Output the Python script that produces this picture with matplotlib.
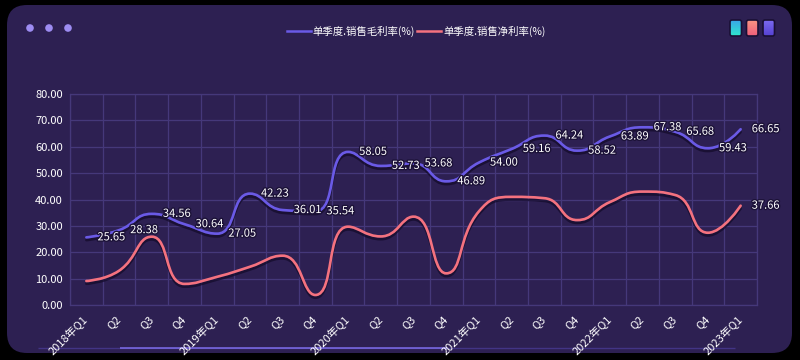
import numpy as np
import matplotlib
matplotlib.use("Agg")
import matplotlib.pyplot as plt
import matplotlib.patheffects as pe
from matplotlib.path import Path
from matplotlib.patches import PathPatch, FancyBboxPatch, Circle
from matplotlib.lines import Line2D

plt.rcParams['font.family'] = ['Noto Sans CJK SC', 'DejaVu Sans']

# 数据
quarters = ["2018年Q1", "Q2", "Q3", "Q4",
            "2019年Q1", "Q2", "Q3", "Q4",
            "2020年Q1", "Q2", "Q3", "Q4",
            "2021年Q1", "Q2", "Q3", "Q4",
            "2022年Q1", "Q2", "Q3", "Q4",
            "2023年Q1"]
gross_margin = [25.65, 28.38, 34.56, 30.64, 27.05, 42.23, 36.01, 35.54, 58.05, 52.73,
                53.68, 46.89, 54.00, 59.16, 64.24, 58.52, 63.89, 67.38, 65.68, 59.43, 66.65]
net_margin = [9.1, 13.0, 25.9, 8.0, 10.7, 14.5, 18.7, 3.8, 29.7, 26.0,
              33.5, 12.0, 35.5, 41.0, 40.5, 32.2, 39.0, 43.0, 41.7, 27.4, 37.66]
series_names = ["单季度.销售毛利率(%)", "单季度.销售净利率(%)"]

BG = "#2d2052"
GRID = "#45387a"
BLUE = "#6a5ae6"
RED = "#f4727f"


# 平滑曲线 (类似 echarts smooth)
def smooth_path(ax, xs, ys, smooth=0.5):
    pts = ax.transData.transform(np.column_stack([xs, ys]))
    verts = [pts[0]]
    codes = [Path.MOVETO]
    cp0 = pts[0]
    n = len(pts)
    for i in range(1, n):
        prev, p = pts[i - 1], pts[i]
        if i + 1 >= n:
            cp1 = p
            next_cp0 = p
        else:
            nxt = pts[i + 1]
            v = nxt - prev
            l0 = np.hypot(*(p - prev))
            l1 = np.hypot(*(nxt - p))
            r = l1 / (l0 + l1)
            next_cp0 = p + v * smooth * r
            next_cp0 = np.minimum(next_cp0, np.maximum(nxt, p))
            next_cp0 = np.maximum(next_cp0, np.minimum(nxt, p))
            v = next_cp0 - p
            cp1 = p - v * l0 / l1
            cp1 = np.minimum(cp1, np.maximum(prev, p))
            cp1 = np.maximum(cp1, np.minimum(prev, p))
            v = p - cp1
            next_cp0 = p + v * l1 / l0
        verts += [cp0, cp1, p]
        codes += [Path.CURVE4] * 3
        cp0 = next_cp0
    data = ax.transData.inverted().transform(np.array(verts))
    return Path(data, codes)


fig = plt.figure(figsize=(8, 3.6), dpi=100, facecolor="black")

# 背景层 (像素坐标)
bg = fig.add_axes([0, 0, 1, 1])
bg.set_xlim(0, 800)
bg.set_ylim(360, 0)
bg.axis("off")
bg.add_patch(FancyBboxPatch((7, 5), 785, 348, boxstyle="round,pad=0,rounding_size=20",
                            facecolor=BG, edgecolor="none"))
for cx in [30, 49, 68]:
    bg.add_patch(Circle((cx, 28), 3.8, facecolor="#9d8cf2", edgecolor="none"))

icon_colors = [("#3aa6ea", "#2fe6cc"), ("#f89482", "#ef5f7c"), ("#7b6af0", "#5642d2")]
for k, (c_top, c_bot) in enumerate(icon_colors):
    x0 = 730 + k * 16.5
    box = FancyBboxPatch((x0, 20), 11.5, 16, boxstyle="round,pad=0,rounding_size=2",
                         facecolor="none", edgecolor="#1a1035", lw=1.2, zorder=3)
    bg.add_patch(box)
    grad = np.linspace(0, 1, 32).reshape(-1, 1)
    cmap = matplotlib.colors.LinearSegmentedColormap.from_list("g%d" % k, [c_top, c_bot])
    im = bg.imshow(grad, cmap=cmap, extent=(x0, x0 + 11.5, 36, 20), aspect="auto", zorder=2)
    im.set_clip_path(box)

# 底部滑块线
bg.plot([38, 735], [348, 348], color="#6a5ae6", lw=1.0, alpha=0.35, solid_capstyle="butt")
bg.plot([120, 447], [348, 348], color="#8070f0", lw=1.3, alpha=0.8, solid_capstyle="butt")
bg.set_xlim(0, 800)
bg.set_ylim(360, 0)

# 主图
ax = fig.add_axes([70 / 800, 1 - 305 / 360, 687 / 800, 211 / 360])
ax.set_facecolor("none")
x = np.arange(len(quarters))
ax.set_xlim(-0.5, len(quarters) - 0.5)
ax.set_ylim(0, 80)

ax.set_yticks(np.arange(0, 81, 10))
ax.set_yticklabels(["%.2f" % v for v in np.arange(0, 81, 10)])
ax.set_xticks(x)
ax.set_xticklabels(quarters, rotation=45, ha="right", va="center", rotation_mode="anchor")
ax.set_xticks(np.arange(-0.5, len(quarters)), minor=True)
ax.tick_params(axis="both", which="both", length=0, colors="white", labelsize=8)
ax.tick_params(axis="x", pad=9)
ax.tick_params(axis="y", pad=5)
ax.grid(True, axis="y", which="major", color=GRID, lw=0.9)
ax.grid(True, axis="x", which="minor", color=GRID, lw=0.9)
for s in ax.spines.values():
    s.set_color(GRID)
    s.set_linewidth(0.9)

shadow = [pe.SimpleLineShadow(offset=(0, -2), shadow_color="#120a28", alpha=0.7), pe.Normal()]
for ys, c in [(net_margin, RED), (gross_margin, BLUE)]:
    path = smooth_path(ax, x, ys)
    ax.add_patch(PathPatch(path, fill=False, edgecolor=c, lw=1.9, capstyle="round",
                           path_effects=shadow, zorder=3))

# 数据标签
stroke = [pe.withStroke(linewidth=2, foreground="#1c1238")]
for i, v in enumerate(gross_margin):
    ax.annotate("%.2f" % v, (x[i], v), xytext=(8, 0), textcoords="offset points",
                ha="left", va="center", color="white", fontsize=8, path_effects=stroke,
                zorder=5, annotation_clip=False)
ax.annotate("%.2f" % net_margin[-1], (x[-1], net_margin[-1]), xytext=(8, 0),
            textcoords="offset points", ha="left", va="center", color="white", fontsize=8,
            path_effects=stroke, zorder=5, annotation_clip=False)

handles = [Line2D([], [], color=BLUE, lw=1.8), Line2D([], [], color=RED, lw=1.8)]
fig.legend(handles, series_names, loc="center", bbox_to_anchor=(0.52, 1 - 31 / 360), ncol=2,
           frameon=False, handlelength=2.3, handletextpad=0.2, columnspacing=0.2,
           fontsize=7.5, labelcolor="white")

plt.savefig(fname="out.png", format="png", dpi=100, facecolor="black")
